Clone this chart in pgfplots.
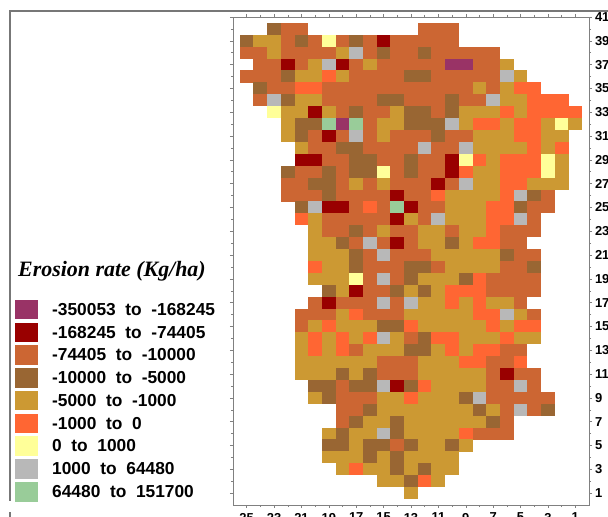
\documentclass[border=0pt]{standalone}
\usepackage{fontspec}
\setmainfont{Liberation Sans}
\newfontfamily\titlefont{Liberation Serif}
\usepackage{pgfplots}
\pgfplotsset{compat=1.18}
\definecolor{cP}{HTML}{993366}
\definecolor{cR}{HTML}{990000}
\definecolor{cO}{HTML}{CC6633}
\definecolor{cB}{HTML}{996633}
\definecolor{cG}{HTML}{CC9933}
\definecolor{cF}{HTML}{FF6633}
\definecolor{cY}{HTML}{FFFF99}
\definecolor{cS}{HTML}{B8B8B8}
\definecolor{cM}{HTML}{99CC99}
\definecolor{frameC}{HTML}{777777}
\definecolor{axC}{HTML}{808080}
\pgfdeclareplotmark{cell}{%
  \pgfpathrectangle{\pgfpoint{-6.93bp}{-6.03bp}}{\pgfpoint{13.86bp}{12.06bp}}%
  \pgfusepathqfill}
\begin{document}
\begin{tikzpicture}
\useasboundingbox (0,0) rectangle (608bp,517bp);
\clip (0,0) rectangle (608bp,517bp);
\fill[white] (0,0) rectangle (608bp,517bp);
\begin{axis}[
  at={(233bp,12bp)}, anchor=south west,
  scale only axis, width=356bp, height=488bp,
  x dir=reverse, xmin=0, xmax=26, ymin=0, ymax=41,
  xtick={1,3,...,25}, ytick={1,3,...,41},
  minor x tick num=1, minor y tick num=1,
  tick pos=both, tick align=outside,
  xticklabel pos=lower, yticklabel pos=right,
  major tick length=3bp, minor tick length=2bp,
  every tick/.style={axC,line width=0.5bp},
  axis line style={axC,line width=0.8bp},
  /pgf/number format/assume math mode=true,
  tick label style={font=\bfseries\fontsize{13}{13}\selectfont,black},
  xticklabel style={yshift=-1.5bp},
  yticklabel style={xshift=-0.5bp},
  clip=false,
  scatter/classes={
    P={mark=cell,cP}, R={mark=cell,cR}, O={mark=cell,cO},
    B={mark=cell,cB}, G={mark=cell,cG}, F={mark=cell,cF},
    Y={mark=cell,cY}, S={mark=cell,cS}, M={mark=cell,cM}},
]
\addplot[scatter, only marks, scatter src=explicit symbolic]
  table[row sep=\\, x=x, y=y, meta=c] {
x y c\\
23 40 B\\22 40 O\\21 40 O\\12 40 O\\11 40 O\\10 40 O\\
25 39 B\\24 39 G\\23 39 G\\22 39 O\\21 39 B\\20 39 O\\19 39 Y\\18 39 O\\17 39 B\\16 39 O\\15 39 R\\14 39 O\\13 39 O\\12 39 O\\11 39 O\\10 39 O\\
25 38 O\\24 38 O\\23 38 G\\22 38 O\\21 38 O\\20 38 O\\19 38 O\\18 38 G\\17 38 S\\16 38 O\\15 38 B\\14 38 O\\13 38 O\\12 38 B\\11 38 O\\10 38 O\\9 38 O\\8 38 O\\7 38 O\\
24 37 O\\23 37 O\\22 37 R\\21 37 O\\20 37 G\\19 37 S\\18 37 R\\17 37 O\\16 37 G\\15 37 O\\14 37 O\\13 37 O\\12 37 O\\11 37 O\\10 37 P\\9 37 P\\8 37 O\\7 37 O\\6 37 G\\
25 36 O\\24 36 O\\23 36 O\\22 36 B\\21 36 G\\20 36 G\\19 36 F\\18 36 G\\17 36 O\\16 36 O\\15 36 O\\14 36 O\\13 36 B\\12 36 B\\11 36 O\\10 36 O\\9 36 O\\8 36 O\\7 36 O\\6 36 S\\5 36 G\\
24 35 B\\23 35 O\\22 35 O\\21 35 F\\20 35 F\\19 35 O\\18 35 O\\17 35 O\\16 35 O\\15 35 O\\14 35 O\\13 35 O\\12 35 O\\11 35 O\\10 35 O\\9 35 O\\8 35 G\\7 35 O\\6 35 G\\5 35 F\\4 35 F\\
24 34 O\\23 34 S\\22 34 B\\21 34 G\\20 34 G\\19 34 O\\18 34 O\\17 34 O\\16 34 O\\15 34 B\\14 34 B\\13 34 O\\12 34 O\\11 34 O\\10 34 B\\9 34 O\\8 34 O\\7 34 S\\6 34 G\\5 34 G\\4 34 F\\3 34 F\\2 34 F\\
23 33 Y\\22 33 G\\21 33 G\\20 33 R\\19 33 G\\18 33 O\\17 33 B\\16 33 O\\15 33 O\\14 33 G\\13 33 B\\12 33 B\\11 33 O\\10 33 B\\9 33 G\\8 33 G\\7 33 G\\6 33 F\\5 33 G\\4 33 F\\3 33 F\\2 33 F\\1 33 F\\
22 32 G\\21 32 B\\20 32 B\\19 32 M\\18 32 P\\17 32 M\\16 32 O\\15 32 G\\14 32 G\\13 32 B\\12 32 B\\11 32 B\\10 32 S\\9 32 G\\8 32 F\\7 32 F\\6 32 G\\5 32 F\\4 32 F\\3 32 G\\2 32 Y\\1 32 G\\
22 31 G\\21 31 B\\20 31 O\\19 31 R\\18 31 O\\17 31 S\\16 31 O\\15 31 G\\14 31 O\\13 31 O\\12 31 O\\11 31 B\\10 31 O\\9 31 O\\8 31 G\\7 31 G\\6 31 G\\5 31 F\\4 31 F\\3 31 G\\2 31 G\\
21 30 G\\20 30 O\\19 30 O\\18 30 B\\17 30 B\\16 30 O\\15 30 O\\14 30 O\\13 30 O\\12 30 S\\11 30 O\\10 30 O\\9 30 S\\8 30 G\\7 30 G\\6 30 G\\5 30 G\\4 30 F\\3 30 G\\2 30 F\\
21 29 R\\20 29 R\\19 29 O\\18 29 O\\17 29 B\\16 29 B\\15 29 O\\14 29 O\\13 29 B\\12 29 O\\11 29 O\\10 29 R\\9 29 Y\\8 29 F\\7 29 G\\6 29 F\\5 29 F\\4 29 F\\3 29 Y\\2 29 G\\
22 28 B\\21 28 O\\20 28 O\\19 28 B\\18 28 O\\17 28 B\\16 28 B\\15 28 Y\\14 28 O\\13 28 B\\12 28 O\\11 28 O\\10 28 R\\9 28 F\\8 28 G\\7 28 G\\6 28 F\\5 28 F\\4 28 F\\3 28 Y\\2 28 G\\
22 27 O\\21 27 O\\20 27 B\\19 27 B\\18 27 O\\17 27 G\\16 27 O\\15 27 G\\14 27 O\\13 27 O\\12 27 O\\11 27 R\\10 27 O\\9 27 S\\8 27 G\\7 27 G\\6 27 F\\5 27 F\\4 27 G\\3 27 G\\2 27 G\\
22 26 O\\21 26 O\\20 26 O\\19 26 B\\18 26 O\\17 26 O\\16 26 O\\15 26 O\\14 26 R\\13 26 O\\12 26 O\\11 26 F\\10 26 G\\9 26 G\\8 26 G\\7 26 G\\6 26 F\\5 26 S\\4 26 B\\3 26 O\\
21 25 B\\20 25 S\\19 25 R\\18 25 R\\17 25 O\\16 25 F\\15 25 O\\14 25 M\\13 25 R\\12 25 O\\11 25 O\\10 25 G\\9 25 G\\8 25 G\\7 25 F\\6 25 F\\5 25 B\\4 25 O\\3 25 O\\
21 24 F\\20 24 G\\19 24 O\\18 24 O\\17 24 O\\16 24 O\\15 24 O\\14 24 R\\13 24 G\\12 24 O\\11 24 S\\10 24 G\\9 24 G\\8 24 G\\7 24 F\\6 24 F\\5 24 S\\4 24 O\\
20 23 G\\19 23 O\\18 23 O\\17 23 B\\16 23 O\\15 23 G\\14 23 O\\13 23 O\\12 23 G\\11 23 G\\10 23 O\\9 23 G\\8 23 G\\7 23 F\\6 23 O\\5 23 O\\4 23 O\\
20 22 G\\19 22 G\\18 22 B\\17 22 O\\16 22 S\\15 22 O\\14 22 R\\13 22 O\\12 22 G\\11 22 G\\10 22 B\\9 22 G\\8 22 F\\7 22 F\\6 22 O\\5 22 O\\
20 21 G\\19 21 G\\18 21 G\\17 21 B\\16 21 O\\15 21 S\\14 21 O\\13 21 O\\12 21 O\\11 21 G\\10 21 G\\9 21 G\\8 21 G\\7 21 G\\6 21 B\\5 21 O\\4 21 O\\
20 20 F\\19 20 G\\18 20 G\\17 20 B\\16 20 O\\15 20 O\\14 20 O\\13 20 B\\12 20 B\\11 20 O\\10 20 G\\9 20 G\\8 20 G\\7 20 G\\6 20 O\\5 20 O\\4 20 B\\
20 19 G\\19 19 G\\18 19 G\\17 19 Y\\16 19 O\\15 19 S\\14 19 O\\13 19 B\\12 19 G\\11 19 G\\10 19 G\\9 19 B\\8 19 F\\7 19 O\\6 19 O\\5 19 O\\4 19 O\\
19 18 B\\18 18 G\\17 18 R\\16 18 O\\15 18 O\\14 18 B\\13 18 G\\12 18 B\\11 18 G\\10 18 F\\9 18 F\\8 18 F\\7 18 O\\6 18 O\\5 18 O\\4 18 O\\
20 17 O\\19 17 R\\18 17 O\\17 17 O\\16 17 O\\15 17 S\\14 17 O\\13 17 S\\12 17 G\\11 17 G\\10 17 F\\9 17 G\\8 17 F\\7 17 G\\6 17 G\\5 17 O\\
21 16 O\\20 16 O\\19 16 O\\18 16 G\\17 16 F\\16 16 O\\15 16 O\\14 16 O\\13 16 G\\12 16 G\\11 16 G\\10 16 G\\9 16 G\\8 16 F\\7 16 F\\6 16 S\\5 16 G\\4 16 O\\
21 15 O\\20 15 G\\19 15 F\\18 15 G\\17 15 G\\16 15 G\\15 15 B\\14 15 B\\13 15 F\\12 15 G\\11 15 G\\10 15 G\\9 15 G\\8 15 G\\7 15 F\\6 15 G\\5 15 F\\4 15 F\\
21 14 G\\20 14 F\\19 14 G\\18 14 F\\17 14 G\\16 14 F\\15 14 S\\14 14 G\\13 14 O\\12 14 B\\11 14 F\\10 14 F\\9 14 G\\8 14 G\\7 14 G\\6 14 F\\5 14 G\\4 14 G\\
21 13 G\\20 13 F\\19 13 G\\18 13 F\\17 13 O\\16 13 G\\15 13 G\\14 13 G\\13 13 B\\12 13 B\\11 13 G\\10 13 F\\9 13 G\\8 13 F\\7 13 F\\6 13 O\\5 13 O\\
21 12 G\\20 12 G\\19 12 G\\18 12 G\\17 12 G\\16 12 G\\15 12 O\\14 12 O\\13 12 O\\12 12 G\\11 12 G\\10 12 G\\9 12 F\\8 12 F\\7 12 O\\6 12 O\\5 12 F\\
21 11 G\\20 11 G\\19 11 G\\18 11 B\\17 11 G\\16 11 B\\15 11 O\\14 11 O\\13 11 O\\12 11 G\\11 11 G\\10 11 G\\9 11 G\\8 11 G\\7 11 O\\6 11 R\\5 11 O\\4 11 O\\
20 10 B\\19 10 B\\18 10 O\\17 10 B\\16 10 B\\15 10 S\\14 10 R\\13 10 B\\12 10 F\\11 10 G\\10 10 G\\9 10 G\\8 10 G\\7 10 O\\6 10 O\\5 10 S\\4 10 O\\
20 9 G\\19 9 B\\18 9 O\\17 9 O\\16 9 O\\15 9 G\\14 9 G\\13 9 F\\12 9 G\\11 9 G\\10 9 G\\9 9 B\\8 9 S\\7 9 O\\6 9 O\\5 9 O\\4 9 O\\3 9 O\\
18 8 O\\17 8 O\\16 8 B\\15 8 G\\14 8 G\\13 8 G\\12 8 G\\11 8 G\\10 8 G\\9 8 G\\8 8 B\\7 8 G\\6 8 O\\5 8 S\\4 8 O\\3 8 B\\
18 7 O\\17 7 B\\16 7 G\\15 7 G\\14 7 B\\13 7 G\\12 7 G\\11 7 G\\10 7 G\\9 7 G\\8 7 G\\7 7 B\\6 7 O\\
19 6 G\\18 6 B\\17 6 G\\16 6 G\\15 6 S\\14 6 B\\13 6 G\\12 6 G\\11 6 G\\10 6 G\\9 6 F\\8 6 O\\7 6 O\\6 6 O\\
19 5 B\\18 5 B\\17 5 G\\16 5 B\\15 5 B\\14 5 O\\13 5 B\\12 5 G\\11 5 G\\10 5 B\\9 5 G\\
19 4 G\\18 4 G\\17 4 G\\16 4 B\\15 4 G\\14 4 B\\13 4 G\\12 4 G\\11 4 G\\10 4 G\\
18 3 G\\17 3 F\\16 3 G\\15 3 G\\14 3 B\\13 3 G\\12 3 B\\11 3 G\\10 3 G\\
15 2 G\\14 2 G\\13 2 B\\12 2 F\\11 2 G\\
13 1 G\\
};
\end{axis}
\begin{scope}[x=1bp,y=1bp]
\draw[frameC,line width=1.4bp] (10,0) -- (10,5) (10,16) -- (10,506) -- (608,506);
\node[anchor=west,inner sep=0pt,font=\titlefont\bfseries\itshape\fontsize{22}{22}\selectfont] at (18,246) {Erosion rate (Kg/ha)};
\foreach \c/\t [count=\i from 0] in {
  cP/{-350053\ \ to\ \ -168245},
  cR/{-168245\ \ to\ \ -74405},
  cO/{-74405\ \ to\ \ -10000},
  cB/{-10000\ \ to\ \ -5000},
  cG/{-5000\ \ to\ \ -1000},
  cF/{-1000\ \ to\ \ 0},
  cY/{0\ \ to\ \ 1000},
  cS/{1000\ \ to\ \ 64480},
  cM/{64480\ \ to\ \ 151700}} {
  \fill[\c] (15,{517-300-\i*22.75}) rectangle (38,{517-319.5-\i*22.75});
  \node[anchor=west,inner sep=0pt,font=\bfseries\fontsize{17.4}{17.4}\selectfont] at (52,{517-309.5-\i*22.75}) {\t};
}
\end{scope}
\end{tikzpicture}
\end{document}
